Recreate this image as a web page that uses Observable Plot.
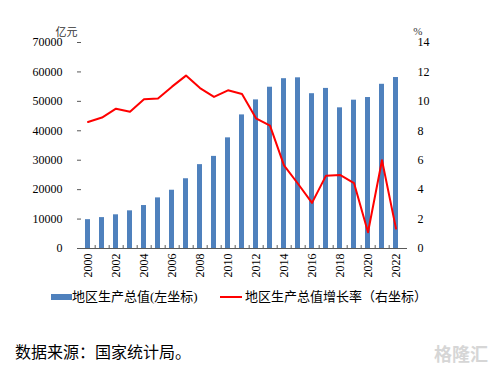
<!DOCTYPE html>
<html>
<head>
<meta charset="utf-8">
<script src="https://cdn.jsdelivr.net/npm/d3@7"></script>
<script src="https://cdn.jsdelivr.net/npm/@observablehq/plot@0.6"></script>
<style>
  html, body { margin: 0; padding: 0; background: #fff; }
  #wrap { position: relative; width: 496px; height: 367px; font-family: "Liberation Serif", "Times New Roman", "Noto Sans CJK SC", serif; color: #000; }
  #chart { position: absolute; left: 0; top: 0; }
  .legend { position: absolute; top: 289px; font-size: 13px; line-height: 16px; white-space: nowrap; }
  .caption { position: absolute; left: 15px; top: 343px; font-size: 16px; line-height: 20px; white-space: nowrap; }
  .wm { position: absolute; right: 8px; top: 340px; font-size: 18px; color: #d6d6d6; font-family: "Noto Sans CJK SC", sans-serif; font-weight: bold; }
</style>
</head>
<body>
<div id="wrap">
  <div id="chart"></div>
  <div class="legend" style="left:51px;"><span style="display:inline-block;width:21px;height:6px;background:#4F81BD;vertical-align:middle;margin-top:-2px;"></span>地区生产总值(左坐标)</div>
  <div class="legend" style="left:220px;"><span style="display:inline-block;width:22px;height:2px;background:#FF0000;vertical-align:middle;margin-top:-2px;margin-right:3px;"></span>地区生产总值增长率（右坐标）</div>
  <div class="caption">数据来源：国家统计局。</div>
  <div class="wm">格隆汇</div>
</div>
<script>
const years = ["2000","2001","2002","2003","2004","2005","2006","2007","2008","2009","2010","2011","2012","2013","2014","2015","2016","2017","2018","2019","2020","2021","2022"];
const gdp = [9800, 10500, 11450, 12800, 14600, 17200, 19800, 23700, 28500, 31300, 37600, 45400, 50500, 54800, 57700, 58000, 52600, 54400, 47800, 50400, 51300, 55800, 58100];
const growth = [8.6, 8.9, 9.5, 9.3, 10.15, 10.2, 11.0, 11.75, 10.9, 10.3, 10.75, 10.5, 8.85, 8.35, 5.65, 4.4, 3.1, 4.95, 5.0, 4.45, 1.1, 6.0, 1.35];
const leftTicks = [0, 10000, 20000, 30000, 40000, 50000, 60000, 70000];
const rightTicks = [0, 2, 4, 6, 8, 10, 12, 14];
const xLabels = ["2000","2002","2004","2006","2008","2010","2012","2014","2016","2018","2020","2022"];

const k = 70000 / 14; // right axis scaling
const data = years.map((y, i) => ({year: y, gdp: gdp[i], growth: growth[i]}));
const axisColor = "#595959";
const W = 496, H = 290, mL = 77, mR = 89;
const step = (W - mL - mR) / years.length;
const font = '"Liberation Serif", "Times New Roman", "Noto Sans CJK SC", serif';

const chart = Plot.plot({
  width: W,
  height: H,
  marginLeft: mL,
  marginRight: mR,
  marginTop: 42,
  marginBottom: 42,
  style: {fontFamily: font, fontSize: "12px", color: "#000", background: "#fff"},
  x: {domain: years, paddingInner: 0.63, paddingOuter: 0.315, axis: null},
  y: {domain: [0, 70000], axis: null},
  marks: [
    Plot.barY(data, {x: "year", y: "gdp", fill: "#4F81BD"}),
    Plot.line(data, {x: "year", y: d => d.growth * k, stroke: "#FF0000", strokeWidth: 2}),
    Plot.ruleY([0], {stroke: axisColor, strokeWidth: 1.2}),
    Plot.ruleX(years.slice(0, -1), {x: d => d, y1: 0, y2: 1000, dx: step / 2, stroke: axisColor}),
    Plot.axisY({anchor: "left", ticks: leftTicks, tickFormat: d => String(d), tickSize: 0, tickPadding: 15, line: true, stroke: axisColor, label: null}),
    Plot.axisY({anchor: "left", ticks: leftTicks, tickFormat: () => "", tickSize: 4, dx: 4, stroke: axisColor, label: null}),
    Plot.axisY({anchor: "right", ticks: rightTicks.map(v => v * k), tickFormat: d => String(d / k), tickSize: 0, tickPadding: 10, line: true, stroke: axisColor, label: null}),
    Plot.axisX({ticks: xLabels, tickSize: 0, tickPadding: 5, tickRotate: -90, label: null}),
    Plot.text(["亿元"], {frameAnchor: "top-left", dx: -22, dy: -14, fontSize: 11, fill: "#333"}),
    Plot.text(["%"], {frameAnchor: "top-right", dx: 15, dy: -15, fontSize: 11, fill: "#333"})
  ]
});
document.getElementById("chart").appendChild(chart);
</script>
</body>
</html>
